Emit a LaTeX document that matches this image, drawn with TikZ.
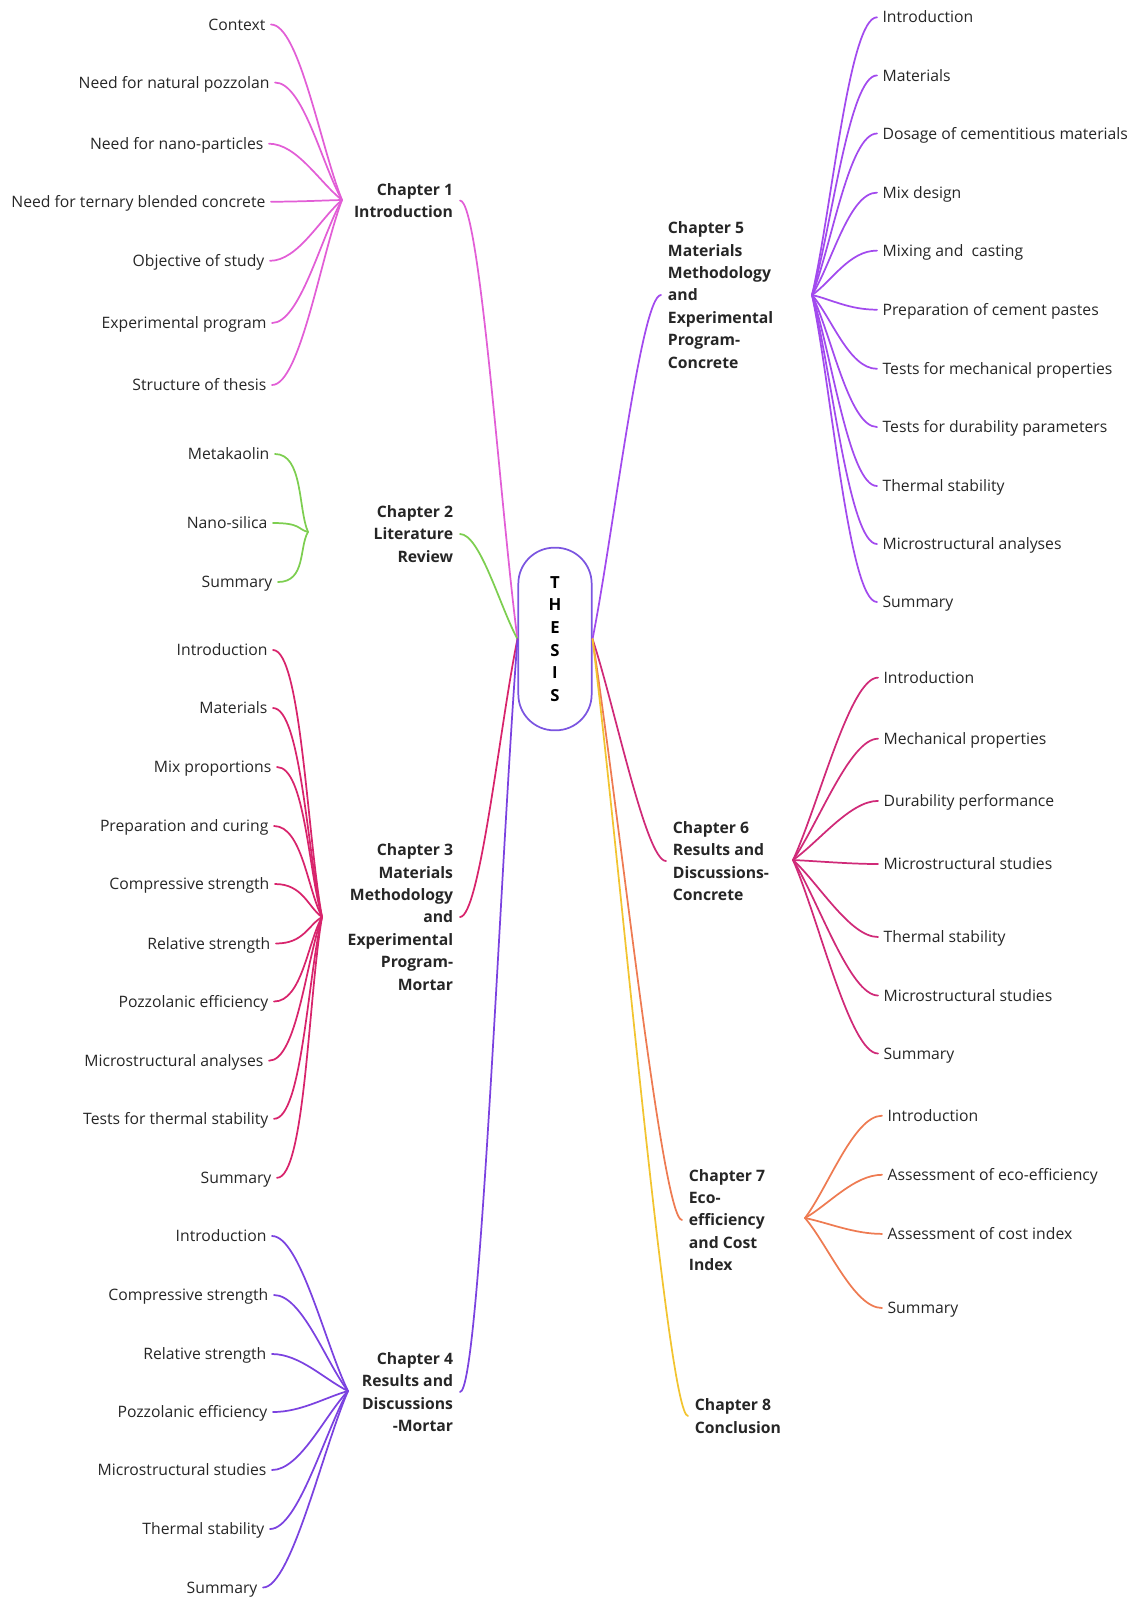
\documentclass[tikz,border=0pt]{standalone}
\usepackage{fontspec}
\setmainfont{Open Sans}
\usetikzlibrary{calc}
\definecolor{chone}{HTML}{E25ED6}
\definecolor{chtwo}{HTML}{7DCE50}
\definecolor{chthree}{HTML}{D8246C}
\definecolor{chfour}{HTML}{7B42E0}
\definecolor{chfive}{HTML}{A24AEE}
\definecolor{chsix}{HTML}{D02A78}
\definecolor{chseven}{HTML}{EE7B52}
\definecolor{cheight}{HTML}{F2C430}
\definecolor{thesisline}{HTML}{7B55E0}
\tikzset{
  leaf/.style={font=\fontsize{11.8}{16.8}\selectfont, text=black!85, inner sep=4pt, text height=8.4pt, text depth=0pt},
  chap/.style={font=\fontsize{11.8}{16.8}\selectfont\bfseries, text=black!85, inner sep=5pt},
  branch/.style={line width=1.3pt, line cap=round},
}
\newcommand{\twig}[4]{\draw[branch,#1] (#2) .. controls ($(#2)!0.3!(#3)$) and ($(#3)+(#4,0)$) .. (#3);}
\begin{document}
\begin{tikzpicture}[x=0.75pt,y=-0.75pt]
\useasboundingbox (0,0) rectangle (1133,1597);
\node[draw=thesisline, line width=1.3pt, rounded corners=27pt, minimum width=55pt, minimum height=137pt,
  font=\fontsize{12.5}{17}\selectfont\bfseries, align=center] (thesis) at (555,639) {T\\H\\E\\S\\I\\S};

\node[chap,anchor=east,align=right] (ch1) at (460,200.5) {Chapter 1\\Introduction};
\node[chap,anchor=east,align=right] (ch2) at (460,534) {Chapter 2\\Literature\\Review};
\node[chap,anchor=east,align=right] (ch3) at (460,917) {Chapter 3\\Materials\\Methodology\\and\\Experimental\\Program-\\Mortar};
\node[chap,anchor=east,align=right] (ch4) at (460,1392) {Chapter 4\\Results and\\Discussions\\-Mortar};
\node[chap,anchor=west,align=left] (ch5) at (661,295) {Chapter 5\\Materials\\Methodology\\and\\Experimental\\Program-\\Concrete};
\node[chap,anchor=west,align=left] (ch6) at (666,861) {Chapter 6\\Results and\\Discussions-\\Concrete};
\node[chap,anchor=west,align=left] (ch7) at (682,1220) {Chapter 7\\Eco-\\efficiency\\and Cost\\Index};
\node[chap,anchor=west,align=left] (ch8) at (688,1416) {Chapter 8\\Conclusion};

\twig{chone}{thesis.west}{ch1.east}{20}
\twig{chtwo}{thesis.west}{ch2.east}{20}
\twig{chthree}{thesis.west}{ch3.east}{20}
\twig{chfour}{thesis.west}{ch4.east}{20}
\twig{chfive}{thesis.east}{ch5.west}{-20}
\twig{chsix}{thesis.east}{ch6.west}{-20}
\twig{chseven}{thesis.east}{ch7.west}{-20}
\twig{cheight}{thesis.east}{ch8.west}{-20}

\coordinate (h1) at (342,200);
\coordinate (h2) at (308,532);
\coordinate (h3) at (322,917);
\coordinate (h4) at (348,1391);
\coordinate (h5) at (812,295);
\coordinate (h6) at (793,860);
\coordinate (h7) at (805,1218);

\foreach \n/\y/\x/\t in {1/24.5/271/Context, 2/82.5/275/Need for natural pozzolan, 3/143.7/269/Need for nano-particles,
  4/201.7/271/Need for ternary blended concrete, 5/260.8/270/Objective of study, 6/323/272/Experimental program,
  7/385/272/Structure of thesis}
  {\node[leaf,anchor=east] (ch1-\n) at (\x,\y) {\t};
   \twig{chone}{h1}{ch1-\n.east}{28}}
\foreach \n/\y/\x/\t in {1/454/275/Metakaolin, 2/523/273/Nano-silica, 3/582/278/Summary}
  {\node[leaf,anchor=east] (ch2-\n) at (\x,\y) {\t};
   \twig{chtwo}{h2}{ch2-\n.east}{28}}
\foreach \n/\y/\x/\t in {1/650/273/Introduction, 2/708/273/Materials, 3/767/277/Mix proportions,
  4/826/274/Preparation and curing, 5/884/275/Compressive strength, 6/943.5/276/Relative strength,
  7/1001.5/274/Pozzolanic efficiency, 8/1060.7/269/Microstructural analyses,
  9/1118.8/274/Tests for thermal stability, 10/1177.8/277/Summary}
  {\node[leaf,anchor=east] (ch3-\n) at (\x,\y) {\t};
   \twig{chthree}{h3}{ch3-\n.east}{28}}
\foreach \n/\y/\x/\t in {1/1236/272/Introduction, 2/1295/274/Compressive strength, 3/1354/272/Relative strength,
  4/1412/273/Pozzolanic efficiency, 5/1470/272/Microstructural studies, 6/1529/270/Thermal stability,
  7/1587.5/263/Summary}
  {\node[leaf,anchor=east] (ch4-\n) at (\x,\y) {\t};
   \twig{chfour}{h4}{ch4-\n.east}{28}}
\foreach \n/\y/\t in {1/17.3/Introduction, 2/75.4/Materials, 3/133.5/Dosage of cementitious materials,
  4/192.6/Mix design, 5/250.6/Mixing and\ \ casting, 6/309.7/Preparation of cement pastes,
  7/368.8/Tests for mechanical properties, 8/427/Tests for durability parameters, 9/486/Thermal stability,
  10/544/Microstructural analyses, 11/602/Summary}
  {\node[leaf,anchor=west] (ch5-\n) at (877,\y) {\t};
   \twig{chfive}{h5}{ch5-\n.west}{-28}}
\foreach \n/\y/\t in {1/677.6/Introduction, 2/738.7/Mechanical properties, 3/800.9/Durability performance,
  4/864/Microstructural studies, 5/937/Thermal stability, 6/995.5/Microstructural studies, 7/1053.5/Summary}
  {\node[leaf,anchor=west] (ch6-\n) at (878,\y) {\t};
   \twig{chsix}{h6}{ch6-\n.west}{-28}}
\foreach \n/\y/\t in {1/1115.7/Introduction, 2/1174.8/Assessment of eco-efficiency, 3/1233.9/Assessment of cost index,
  4/1308/Summary}
  {\node[leaf,anchor=west] (ch7-\n) at (882,\y) {\t};
   \twig{chseven}{h7}{ch7-\n.west}{-28}}
\end{tikzpicture}
\end{document}
